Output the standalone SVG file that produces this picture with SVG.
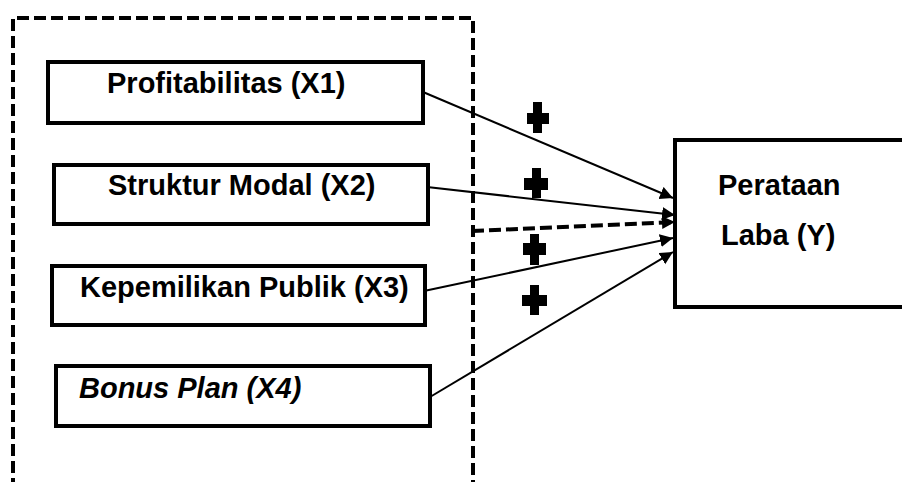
<svg xmlns="http://www.w3.org/2000/svg" width="902" height="482" viewBox="0 0 902 482">
  <style>
    .box { fill: #fff; stroke: #000; stroke-width: 4; }
    .lbl { font-family: "Liberation Sans", Arial, sans-serif; font-weight: bold; font-size: 29px; fill: #000; }
    .link { fill: none; stroke: #000; stroke-width: 2; }
    .dash { fill: none; stroke: #000; stroke-width: 4; stroke-dasharray: 12 5; }
    .plus { fill: #000; }
  </style>
  <defs>
    <marker id="head" markerUnits="userSpaceOnUse" markerWidth="14" markerHeight="14" refX="13" refY="6.5" orient="auto">
      <path d="M0,0 L13,6.5 L0,13 Z" fill="#000"/>
    </marker>
  </defs>

  <!-- dashed frame around the independent variables -->
  <path class="dash" d="M13,490 V18 H473 V490"/>

  <g id="x1">
    <rect class="box" x="48" y="62" width="375" height="61"/>
    <text class="lbl" x="107" y="93">Profitabilitas (X1)</text>
  </g>
  <g id="x2">
    <rect class="box" x="54" y="165" width="374" height="59"/>
    <text class="lbl" x="108" y="195">Struktur Modal (X2)</text>
  </g>
  <g id="x3">
    <rect class="box" x="52" y="266" width="373" height="59"/>
    <text class="lbl" x="80" y="297">Kepemilikan Publik (X3)</text>
  </g>
  <g id="x4">
    <rect class="box" x="56" y="366" width="374" height="60"/>
    <text class="lbl" x="79" y="398" font-style="italic">Bonus Plan (X4)</text>
  </g>
  <g id="y">
    <rect class="box" x="675" y="140" width="250" height="167"/>
    <text class="lbl" x="718" y="195">Perataan</text>
    <text class="lbl" x="721" y="245">Laba (Y)</text>
  </g>

  <g id="connectors">
    <line class="link" x1="423" y1="92" x2="673" y2="198" marker-end="url(#head)"/>
    <line class="link" x1="427" y1="187" x2="675" y2="215" marker-end="url(#head)"/>
    <line class="dash" x1="472" y1="231" x2="675" y2="222" marker-end="url(#head)"/>
    <line class="link" x1="424" y1="291" x2="673" y2="238" marker-end="url(#head)"/>
    <line class="link" x1="430" y1="397" x2="673" y2="252" marker-end="url(#head)"/>
  </g>

  <!-- positive-effect signs -->
  <g id="signs">
    <path class="plus" d="M533,102 h9 v11 h7 v11 h-7 v9 h-9 v-9 h-6 v-11 h6 z"/>
    <path class="plus" d="M532,168 h9 v10 h7 v12 h-7 v8 h-9 v-8 h-8 v-12 h8 z"/>
    <path class="plus" d="M530,234 h9 v9 h7 v12 h-7 v10 h-9 v-10 h-7 v-12 h7 z"/>
    <path class="plus" d="M530,285 h9 v10 h8 v11 h-8 v9 h-9 v-9 h-8 v-11 h8 z"/>
  </g>
</svg>
